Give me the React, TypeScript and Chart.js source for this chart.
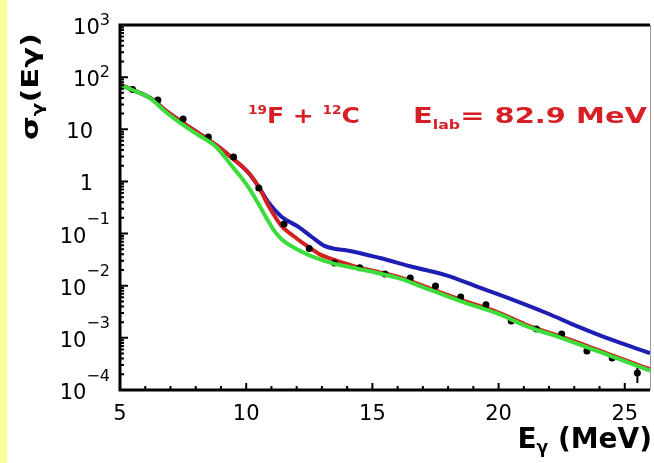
import React, { useEffect, useRef } from 'react';
import { Chart, registerables } from 'chart.js';
Chart.register(...registerables);

const W = 654;
const H = 463;
const FONT = '"DejaVu Sans", sans-serif';

// axis ticks
const xTickValues = [5, 10, 15, 20, 25];
const xTickLabels = ['5', '10', '15', '20', '25'];
const yTickValues = [1e3, 1e2, 10, 1, 0.1, 0.01, 1e-3, 1e-4];
const yTickBase = ['10', '10', '10', '1', '10', '10', '10', '10'];
const yTickExp = ['3', '2', '', '', '−1', '−2', '−3', '−4'];

// experimental points
const dataE = [5.5, 6.5, 7.5, 8.5, 9.5, 10.5, 11.5, 12.5, 13.5, 14.5, 15.5, 16.5, 17.5, 18.5, 19.5, 20.5, 21.5, 22.5, 23.5, 24.5, 25.5];
const dataSigma = [58, 36.5, 15.7, 7.1, 2.94, 0.75, 0.152, 0.052, 0.0272, 0.022, 0.0168, 0.0141, 0.0099, 0.0061, 0.0043, 0.0021, 0.00148, 0.00119, 0.00056, 0.00041, 0.000212];
const dataErrLow = [null, null, null, null, null, null, null, null, null, null, null, null, null, null, null, null, null, null, null, null, 0.000136];
const dataErrHigh = [null, null, null, null, null, null, null, null, null, null, null, null, null, null, null, null, null, null, null, null, 0.000264];

// blue curve
const blueE = [5.0, 5.5, 6.2, 6.8, 7.5, 8.1, 8.8, 9.4, 10.1, 10.5, 10.9, 11.4, 12.1, 12.6, 13.1, 13.5, 14.0, 15.3, 16.6, 17.9, 19.2, 20.6, 21.9, 23.2, 24.5, 26.0];
const blueSigma = [72, 57, 40, 23, 13.2, 8.5, 5.0, 2.94, 1.45, 0.78, 0.385, 0.21, 0.132, 0.086, 0.058, 0.051, 0.0475, 0.034, 0.0229, 0.016, 0.0094, 0.0053, 0.003, 0.00161, 0.00091, 0.00051];

// red curve
const redE = [5.0, 5.5, 6.2, 6.8, 7.5, 8.1, 8.8, 9.4, 10.1, 10.5, 10.9, 11.4, 11.9, 12.45, 12.96, 13.35, 14.3, 15.2, 16.0, 17.3, 18.6, 19.9, 21.2, 22.5, 23.8, 25.1, 26.0];
const redSigma = [72, 57, 40, 23, 13.2, 8.5, 5.0, 2.94, 1.45, 0.78, 0.33, 0.14, 0.088, 0.056, 0.039, 0.033, 0.0235, 0.0185, 0.0149, 0.0088, 0.0052, 0.0032, 0.0017, 0.00105, 0.00062, 0.00036, 0.00025];

// green curve
const greenE = [5.0, 5.5, 6.2, 6.8, 7.5, 8.1, 8.8, 9.4, 10.1, 10.5, 10.8, 11.1, 11.4, 11.8, 12.2, 12.6, 13.4, 14.3, 15.2, 16.0, 17.3, 18.6, 19.9, 21.2, 22.5, 23.8, 25.1, 26.0];
const greenSigma = [70.6, 56.6, 39.2, 21.7, 12.1, 7.76, 4.63, 2.07, 0.76, 0.36, 0.2, 0.115, 0.078, 0.057, 0.045, 0.0365, 0.0272, 0.0218, 0.0175, 0.0141, 0.00828, 0.00486, 0.003, 0.00161, 0.00099, 0.000585, 0.000344, 0.000235];

const pts = (xs: number[], ys: number[]) => xs.map((v, i) => ({ x: v, y: ys[i] }));

type Run = { text: string; font: string; dy?: number };
function drawRuns(ctx: CanvasRenderingContext2D, x: number, y: number, runs: Run[]) {
  let cx = x;
  for (const r of runs) {
    ctx.font = r.font;
    ctx.fillText(r.text, cx, y + (r.dy || 0));
    cx += ctx.measureText(r.text).width;
  }
  return cx - x;
}
function runsWidth(ctx: CanvasRenderingContext2D, runs: Run[]) {
  let w = 0;
  for (const r of runs) {
    ctx.font = r.font;
    w += ctx.measureText(r.text).width;
  }
  return w;
}

const decoPlugin = {
  id: 'deco',
  beforeDraw(chart: any) {
    const ctx = chart.ctx as CanvasRenderingContext2D;
    ctx.save();
    ctx.fillStyle = '#ffffff';
    ctx.fillRect(0, 0, chart.width, chart.height);
    ctx.fillStyle = '#ffff99';
    ctx.fillRect(0, 0, 7, chart.height);
    ctx.restore();
  },
  afterDatasetsDraw(chart: any) {
    const ctx = chart.ctx as CanvasRenderingContext2D;
    const a = chart.chartArea;
    const xs = chart.scales.x;
    const ys = chart.scales.y;
    ctx.save();

    // error bars
    ctx.strokeStyle = '#000';
    ctx.lineWidth = 2;
    dataE.forEach((e, i) => {
      const lo = dataErrLow[i];
      const hi = dataErrHigh[i];
      if (lo == null || hi == null) return;
      const px = xs.getPixelForValue(e);
      ctx.beginPath();
      ctx.moveTo(px, ys.getPixelForValue(lo));
      ctx.lineTo(px, ys.getPixelForValue(hi));
      ctx.stroke();
    });

    // right border
    ctx.strokeStyle = '#999';
    ctx.lineWidth = 1;
    ctx.beginPath();
    ctx.moveTo(a.right + 0.5, a.top);
    ctx.lineTo(a.right + 0.5, a.bottom);
    ctx.stroke();

    // frame
    ctx.strokeStyle = '#000';
    ctx.lineWidth = 3;
    ctx.beginPath();
    ctx.moveTo(a.right, a.top);
    ctx.lineTo(a.left, a.top);
    ctx.lineTo(a.left, a.bottom);
    ctx.lineTo(a.right, a.bottom);
    ctx.stroke();

    // y ticks
    ctx.lineWidth = 2;
    ctx.beginPath();
    yTickValues.forEach((v) => {
      const py = ys.getPixelForValue(v);
      ctx.moveTo(a.left, py);
      ctx.lineTo(a.left + 8, py);
    });
    for (let k = -4; k < 3; k++) {
      for (let m = 2; m < 10; m++) {
        const py = ys.getPixelForValue(m * Math.pow(10, k));
        ctx.moveTo(a.left, py);
        ctx.lineTo(a.left + 4, py);
      }
    }
    // x ticks
    for (let v = 6; v <= 25; v++) {
      if (v % 5 === 0) continue;
      const px = xs.getPixelForValue(v);
      ctx.moveTo(px, a.bottom);
      ctx.lineTo(px, a.bottom - 4);
    }
    xTickValues.forEach((v) => {
      const px = xs.getPixelForValue(v);
      ctx.moveTo(px, a.bottom);
      ctx.lineTo(px, a.bottom - 7);
    });
    ctx.stroke();

    // x tick labels
    ctx.fillStyle = '#000';
    ctx.font = `21px ${FONT}`;
    ctx.textAlign = 'center';
    ctx.textBaseline = 'alphabetic';
    xTickValues.forEach((v, i) => {
      ctx.fillText(xTickLabels[i], xs.getPixelForValue(v), 420);
    });

    // y tick labels
    ctx.textAlign = 'left';
    yTickValues.forEach((v, i) => {
      const py = ys.getPixelForValue(v);
      const base = yTickBase[i];
      const exp = yTickExp[i];
      ctx.font = `21px ${FONT}`;
      const bw = ctx.measureText(base).width;
      if (exp) {
        ctx.font = `16px ${FONT}`;
        const ew = ctx.measureText(exp).width;
        const ex = 110 - ew;
        const neg = exp.startsWith('−');
        ctx.fillText(exp, ex, py + (neg ? -9.5 : -0.5));
        ctx.font = `21px ${FONT}`;
        ctx.fillText(base, ex - bw, py + 9);
      } else {
        ctx.fillText(base, 93 - bw, py + 9);
      }
    });

    // y axis title (rotated)
    const yRuns: Run[] = [
      { text: 'σ', font: `bold 23px ${FONT}` },
      { text: 'γ', font: `bold 15px ${FONT}`, dy: 5 },
      { text: '(Eγ)', font: `bold 23px ${FONT}` },
    ];
    const yw = runsWidth(ctx, yRuns);
    ctx.save();
    ctx.translate(38, 140);
    ctx.rotate(-Math.PI / 2);
    ctx.scale(107 / yw, 1);
    drawRuns(ctx, 0, 0, yRuns);
    ctx.restore();

    // x axis title
    const xRuns: Run[] = [
      { text: 'E', font: `bold 28px ${FONT}` },
      { text: 'γ', font: `bold 17px ${FONT}`, dy: 5 },
      { text: ' (MeV)', font: `bold 28px ${FONT}` },
    ];
    const xw = runsWidth(ctx, xRuns);
    drawRuns(ctx, 652 - xw, 448, xRuns);

    // annotation
    ctx.fillStyle = '#d62026';
    const g1: Run[] = [
      { text: '19', font: `bold 12px ${FONT}`, dy: -9 },
      { text: 'F + ', font: `bold 22px ${FONT}` },
      { text: '12', font: `bold 12px ${FONT}`, dy: -9 },
      { text: 'C', font: `bold 22px ${FONT}` },
    ];
    const g1w = runsWidth(ctx, g1);
    ctx.save();
    ctx.translate(248, 123);
    ctx.scale(112 / g1w, 1);
    drawRuns(ctx, 0, 0, g1);
    ctx.restore();
    const g2: Run[] = [
      { text: 'E', font: `bold 22px ${FONT}` },
      { text: 'lab', font: `bold 12px ${FONT}`, dy: 6 },
      { text: '= 82.9 MeV', font: `bold 22px ${FONT}` },
    ];
    const g2w = runsWidth(ctx, g2);
    ctx.save();
    ctx.translate(413, 123);
    ctx.scale(234 / g2w, 1);
    drawRuns(ctx, 0, 0, g2);
    ctx.restore();

    ctx.restore();
  },
};

export default function App() {
  const ref = useRef<HTMLCanvasElement | null>(null);
  useEffect(() => {
    if (!ref.current) return;
    const lineDs = (label: string, xs: number[], ysv: number[], color: string, order: number) => ({
      label,
      data: pts(xs, ysv),
      showLine: true,
      borderColor: color,
      backgroundColor: color,
      borderWidth: 4,
      pointRadius: 0,
      cubicInterpolationMode: 'monotone' as const,
      order,
    });
    const chart = new Chart(ref.current, {
      type: 'scatter',
      data: {
        datasets: [
          lineDs('green', greenE, greenSigma, '#3ddc3d', 0),
          {
            label: 'data',
            data: pts(dataE, dataSigma),
            showLine: false,
            pointRadius: 3.5,
            pointBorderWidth: 0,
            backgroundColor: '#000',
            borderColor: '#000',
            order: 1,
          },
          lineDs('red', redE, redSigma, '#d42020', 2),
          lineDs('blue', blueE, blueSigma, '#1e1eb4', 3),
        ],
      },
      options: {
        responsive: false,
        animation: false,
        devicePixelRatio: 1,
        layout: { padding: { left: 120, right: 1, top: 25, bottom: 73 } },
        plugins: { legend: { display: false }, title: { display: false }, tooltip: { enabled: false } },
        scales: {
          x: { type: 'linear', min: 5, max: 26, display: false },
          y: { type: 'logarithmic', min: 1e-4, max: 1e3, display: false },
        },
      },
      plugins: [decoPlugin],
    });
    return () => chart.destroy();
  }, []);
  return (
    <div style={{ position: 'absolute', left: 0, top: 0, width: W, height: H, background: '#fff' }}>
      <canvas ref={ref} width={W} height={H} style={{ display: 'block', width: W, height: H }} />
    </div>
  );
}
